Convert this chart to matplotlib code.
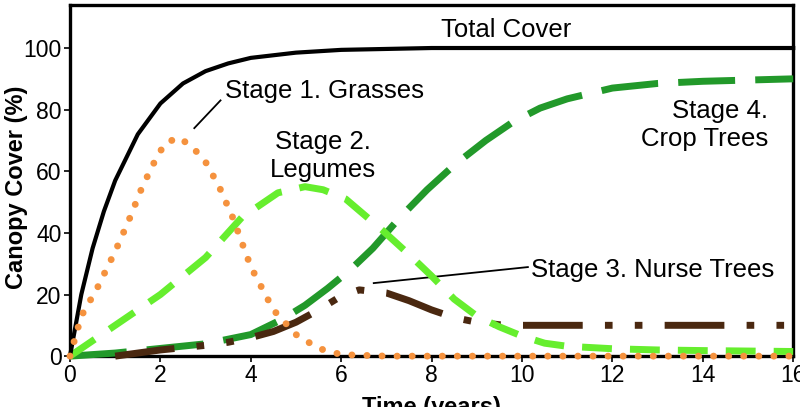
import numpy as np
import matplotlib.pyplot as plt

plt.rcParams['font.family'] = ['Liberation Sans', 'DejaVu Sans']

# values
years_total = [0, 0.25, 0.5, 0.75, 1, 1.5, 2, 2.5, 3, 3.5, 4, 5, 6, 8, 10, 16]
total_cover = [0, 20, 35, 47, 57, 72, 82, 88.5, 92.5, 95, 96.8, 98.5, 99.4, 100, 100, 100]

years_grass = [0, 0.25, 0.6, 1.0, 1.3, 1.6, 1.9, 2.1, 2.4, 2.7, 3.0, 3.3, 3.6, 4.0, 4.5, 5.0, 5.5, 6, 7, 16]
grasses = [0, 13, 22, 34, 44, 55, 64, 69, 71, 68, 63, 55, 45, 29, 15, 7, 2.5, 0.5, 0, 0]

years_legume = [0, 1, 2, 3, 3.8, 4.6, 5.2, 5.6, 6.1, 6.9, 7.5, 8, 8.5, 9, 9.5, 10, 10.5, 11, 12, 13, 14, 16]
legumes = [0, 10, 20, 32, 45, 53, 55, 54, 51, 41, 33, 26, 18.5, 13, 9.5, 6.5, 4.2, 3.2, 2.4, 2, 1.8, 1.5]

years_nurse = [1, 2, 3, 3.5, 4, 4.5, 5, 5.5, 6, 6.4, 7, 7.5, 8, 8.5, 9, 9.5, 10, 16]
nurse_trees = [0, 2, 3.5, 4.5, 6, 8, 11, 15, 19.5, 21.5, 20.5, 18, 15, 12.5, 11, 10.2, 10, 10]

years_crop = [0, 1, 2, 3, 4, 4.7, 5.2, 5.7, 6.2, 6.7, 7.3, 7.9, 8.5, 9.2, 9.8, 10.4, 11, 12, 13, 14, 15, 16]
crop_trees = [0, 1, 2.5, 4, 7, 12, 16.5, 22, 28, 35, 45, 54, 62, 70, 76, 80.5, 83.5, 87, 88.5, 89.2, 89.6, 90]

x_ticks = [0, 2, 4, 6, 8, 10, 12, 14, 16]
y_ticks = [0, 20, 40, 60, 80, 100]

fig = plt.figure(figsize=(8, 4.07), dpi=100)
ax = fig.add_axes([0.0875, 0.125, 0.904, 0.863])

ax.plot(years_crop, crop_trees, color='#22992a', lw=5, dashes=(8.2, 2.9),
        dash_capstyle='butt', clip_on=False, zorder=3)
ax.plot(years_nurse, nurse_trees, color='#4a2810', lw=5,
        dashes=(8.6, 3.2, 1.1, 3.2, 1.1, 3.2), dash_capstyle='butt',
        clip_on=False, zorder=4)
ax.plot(years_legume, legumes, color='#66ee2e', lw=5, dashes=(4.3, 2.6),
        dash_capstyle='butt', clip_on=False, zorder=5)
ax.plot(years_total, total_cover, color='black', lw=3, clip_on=False, zorder=6)
ax.plot(years_grass, grasses, color='#f5923e', lw=5, dashes=(0.01, 2.16),
        dash_capstyle='round', clip_on=False, zorder=7)

ax.set_xlim(0, 16)
ax.set_ylim(0, 114)
ax.set_xticks(x_ticks)
ax.set_yticks(y_ticks)
ax.tick_params(labelsize=16.5, length=4, width=1.2, pad=2)
for s in ax.spines.values():
    s.set_linewidth(2.4)

ax.set_ylabel('Canopy Cover (%)', fontsize=17, fontweight='bold')
ax.yaxis.set_label_coords(-0.058, 0.48)
ax.set_xlabel('Time (years)', fontsize=17, fontweight='bold', labelpad=6)

fs = 18.5
ax.text(9.65, 106, 'Total Cover', fontsize=fs, ha='center', va='center')
ax.text(3.42, 86, 'Stage 1. Grasses', fontsize=fs, ha='left', va='center')
ax.plot([2.75, 3.33], [74, 83], color='black', lw=1.3)
ax.text(5.6, 65, 'Stage 2.\nLegumes', fontsize=fs, ha='center', va='center',
        linespacing=1.2)
ax.text(15.45, 75, 'Stage 4.\nCrop Trees', fontsize=fs, ha='right', va='center',
        linespacing=1.2)
ax.text(10.2, 28, 'Stage 3. Nurse Trees', fontsize=fs, ha='left', va='center')
ax.plot([6.72, 10.13], [23.7, 28.9], color='black', lw=1.3)

fig.savefig('out.png', dpi=100)
